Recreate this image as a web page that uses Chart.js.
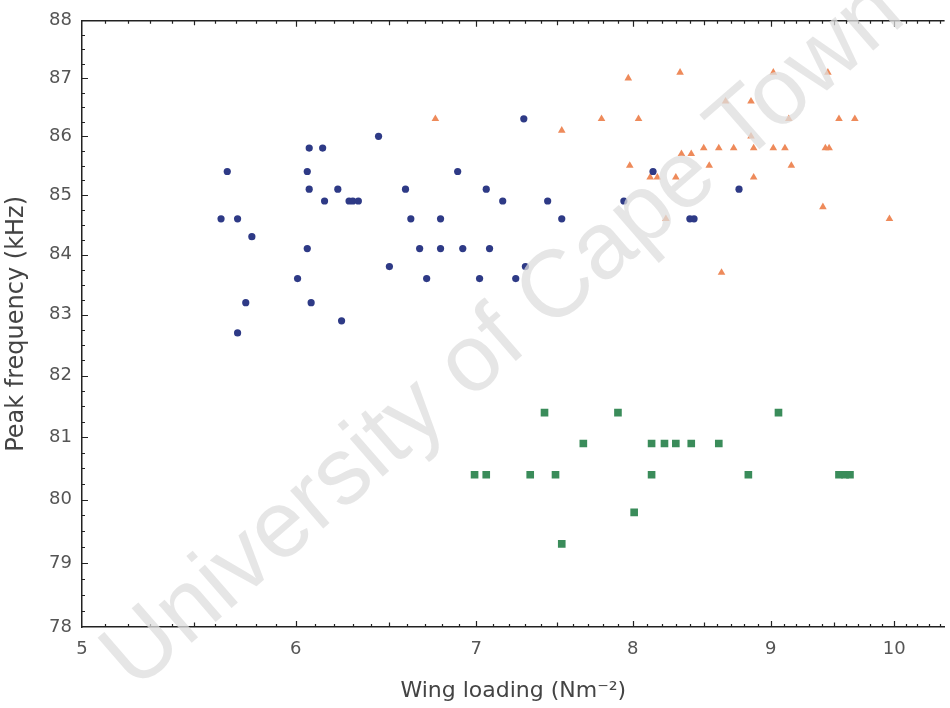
<!DOCTYPE html>
<html>
<head>
<meta charset="utf-8">
<title>Peak frequency vs wing loading</title>
<script src="https://cdn.jsdelivr.net/npm/chart.js@4.4.1/dist/chart.umd.min.js"></script>
<style>
  html, body { margin: 0; padding: 0; background: #fff; }
  #wrap { width: 950px; height: 708px; }
</style>
</head>
<body>
<div id="wrap"><canvas id="scatter" width="950" height="708"></canvas></div>
<script>
  "use strict";

  // axis ticks (both axes are logarithmic)
  const xTicks = [5, 6, 7, 8, 9, 10];
  const yTicks = [78, 79, 80, 81, 82, 83, 84, 85, 86, 87, 88];

  // circles
  const blueX = [5.63, 5.66, 5.71, 5.78, 5.75, 5.71, 6.01, 6.06, 6.07, 6.06, 6.07, 6.08,
    6.14, 6.15, 6.22, 6.28, 6.30, 6.33, 6.24, 6.44, 6.50, 6.59, 6.62, 6.67, 6.71, 6.79,
    6.79, 6.89, 6.92, 7.02, 7.06, 7.08, 7.16, 7.24, 7.30, 7.29, 7.44, 7.53, 7.94, 8.14,
    8.76, 8.40, 8.43];
  const blueY = [84.6, 85.4, 84.6, 84.3, 83.2, 82.7, 83.6, 84.1, 85.8, 85.4, 85.1, 83.2,
    85.8, 84.9, 85.1, 84.9, 84.9, 84.9, 82.9, 86.0, 83.8, 85.1, 84.6, 84.1, 83.6, 84.6,
    84.1, 85.4, 84.1, 83.6, 85.1, 84.1, 84.9, 83.6, 83.8, 86.3, 84.9, 84.6, 84.9, 85.4,
    85.1, 84.6, 84.6];

  // triangles
  const orangeX = [6.76, 7.53, 7.79, 7.97, 7.98, 8.04, 8.33, 9.02, 9.45, 8.66, 8.85, 9.14,
    9.54, 9.67, 8.85, 8.50, 8.61, 8.72, 8.87, 9.02, 9.11, 9.43, 9.46, 8.34, 8.41, 8.54,
    9.16, 8.12, 8.17, 8.30, 8.87, 8.23, 9.41, 9.96, 8.63];
  const orangeY = [86.3, 86.1, 86.3, 87.0, 85.5, 86.3, 87.1, 87.1, 87.1, 86.6, 86.6, 86.3,
    86.3, 86.3, 86.0, 85.8, 85.8, 85.8, 85.8, 85.8, 85.8, 85.8, 85.8, 85.7, 85.7, 85.5,
    85.5, 85.3, 85.3, 85.3, 85.3, 84.6, 84.8, 84.6, 83.7];

  // squares
  const greenX = [7.42, 7.90, 9.06, 7.67, 8.13, 8.22, 8.30, 8.41, 8.61, 6.99, 7.06, 7.33,
    7.49, 8.13, 8.83, 9.54, 9.59, 9.63, 8.01, 7.53];
  const greenY = [81.4, 81.4, 81.4, 80.9, 80.9, 80.9, 80.9, 80.9, 80.9, 80.4, 80.4, 80.4,
    80.4, 80.4, 80.4, 80.4, 80.4, 80.4, 79.8, 79.3];

  const FONT = "'DejaVu Sans', Verdana, sans-serif";
  const STAMP_FONT = "'Liberation Sans', Arial, sans-serif";
  const AXIS_COLOR = "#222";

  function toPoints(xs, ys) {
    return xs.map((x, i) => ({ x: x, y: ys[i] }));
  }

  // top border plus the small inward tick marks on the frame
  const framePlugin = {
    id: "frame",
    afterDraw(chart) {
      const { ctx, chartArea: area } = chart;
      const xs = chart.scales.x;
      const ys = chart.scales.y;
      ctx.save();
      ctx.strokeStyle = AXIS_COLOR;
      ctx.lineWidth = 1.5;
      ctx.beginPath();
      ctx.moveTo(area.left, area.top);
      ctx.lineTo(area.right, area.top);
      ctx.stroke();

      ctx.lineWidth = 1.2;
      ctx.beginPath();
      for (let i = 51; i / 10 < xs.max; i++) {
        const px = Math.round(xs.getPixelForValue(i / 10)) + 0.5;
        const len = i % 10 === 0 ? 6 : (i % 5 === 0 ? 4.5 : 3);
        ctx.moveTo(px, area.bottom);
        ctx.lineTo(px, area.bottom - len);
        ctx.moveTo(px, area.top);
        ctx.lineTo(px, area.top + len);
      }
      for (let i = 78 * 4 + 1; i < 88 * 4; i++) {
        const py = Math.round(ys.getPixelForValue(i / 4)) + 0.5;
        const len = i % 4 === 0 ? 6 : 3;
        ctx.moveTo(area.left, py);
        ctx.lineTo(area.left + len, py);
      }
      ctx.stroke();
      ctx.restore();
    }
  };

  // faint diagonal "University of Cape Town" stamp across the plot
  const stampPlugin = {
    id: "stamp",
    afterDraw(chart) {
      const ctx = chart.ctx;
      ctx.save();
      ctx.translate(135, 692);
      ctx.rotate(-41 * Math.PI / 180);
      ctx.font = "95px " + STAMP_FONT;
      ctx.textAlign = "left";
      ctx.textBaseline = "alphabetic";
      ctx.fillStyle = "rgba(222, 222, 222, 0.75)";
      ctx.fillText("University of Cape Town", 0, 0);
      ctx.restore();
    }
  };

  const ctx = document.getElementById("scatter");

  new Chart(ctx, {
    type: "scatter",
    data: {
      datasets: [
        {
          label: "Group 1",
          data: toPoints(blueX, blueY),
          pointStyle: "circle",
          pointRadius: 3.6,
          backgroundColor: "#2e3a86",
          borderWidth: 0,
        },
        {
          label: "Group 2",
          data: toPoints(orangeX, orangeY),
          pointStyle: "triangle",
          pointRadius: 4.4,
          backgroundColor: "#ee8a5a",
          borderWidth: 0,
        },
        {
          label: "Group 3",
          data: toPoints(greenX, greenY),
          pointStyle: "rect",
          pointRadius: 5.4,
          backgroundColor: "#3a8c5a",
          borderWidth: 0,
        },
      ],
    },
    options: {
      responsive: false,
      animation: false,
      devicePixelRatio: 1,
      layout: { padding: { top: 18, right: 0, bottom: 0, left: 0 } },
      plugins: {
        legend: { display: false },
        tooltip: { enabled: false },
      },
      scales: {
        x: {
          type: "logarithmic",
          min: 5,
          max: 10.44,
          afterBuildTicks: (axis) => {
            axis.ticks = xTicks.map((v) => ({ value: v }));
          },
          afterFit: (axis) => {
            axis.height = 81;
          },
          grid: { display: false, drawTicks: false },
          border: { display: true, color: AXIS_COLOR, width: 1.5 },
          ticks: {
            padding: 12,
            color: "#555",
            autoSkip: false,
            maxRotation: 0,
            font: { family: FONT, size: 18 },
            callback: (v) => String(v),
          },
          title: {
            display: true,
            text: "Wing loading (Nm\u207B\u00B2)",
            color: "#444",
            font: { family: FONT, size: 22 },
            padding: { top: 0, bottom: 4 },
          },
        },
        y: {
          type: "logarithmic",
          min: 78,
          max: 88,
          afterBuildTicks: (axis) => {
            axis.ticks = yTicks.map((v) => ({ value: v }));
          },
          afterFit: (axis) => {
            axis.width = 82;
          },
          grid: { display: false, drawTicks: false },
          border: { display: true, color: AXIS_COLOR, width: 1.5 },
          ticks: {
            padding: 10,
            color: "#555",
            autoSkip: false,
            font: { family: FONT, size: 18 },
            callback: (v) => String(v),
          },
          title: {
            display: true,
            text: "Peak frequency (kHz)",
            color: "#444",
            font: { family: FONT, size: 24 },
            padding: { top: 2, bottom: 0 },
          },
        },
      },
    },
    plugins: [framePlugin, stampPlugin],
  });
</script>
</body>
</html>
